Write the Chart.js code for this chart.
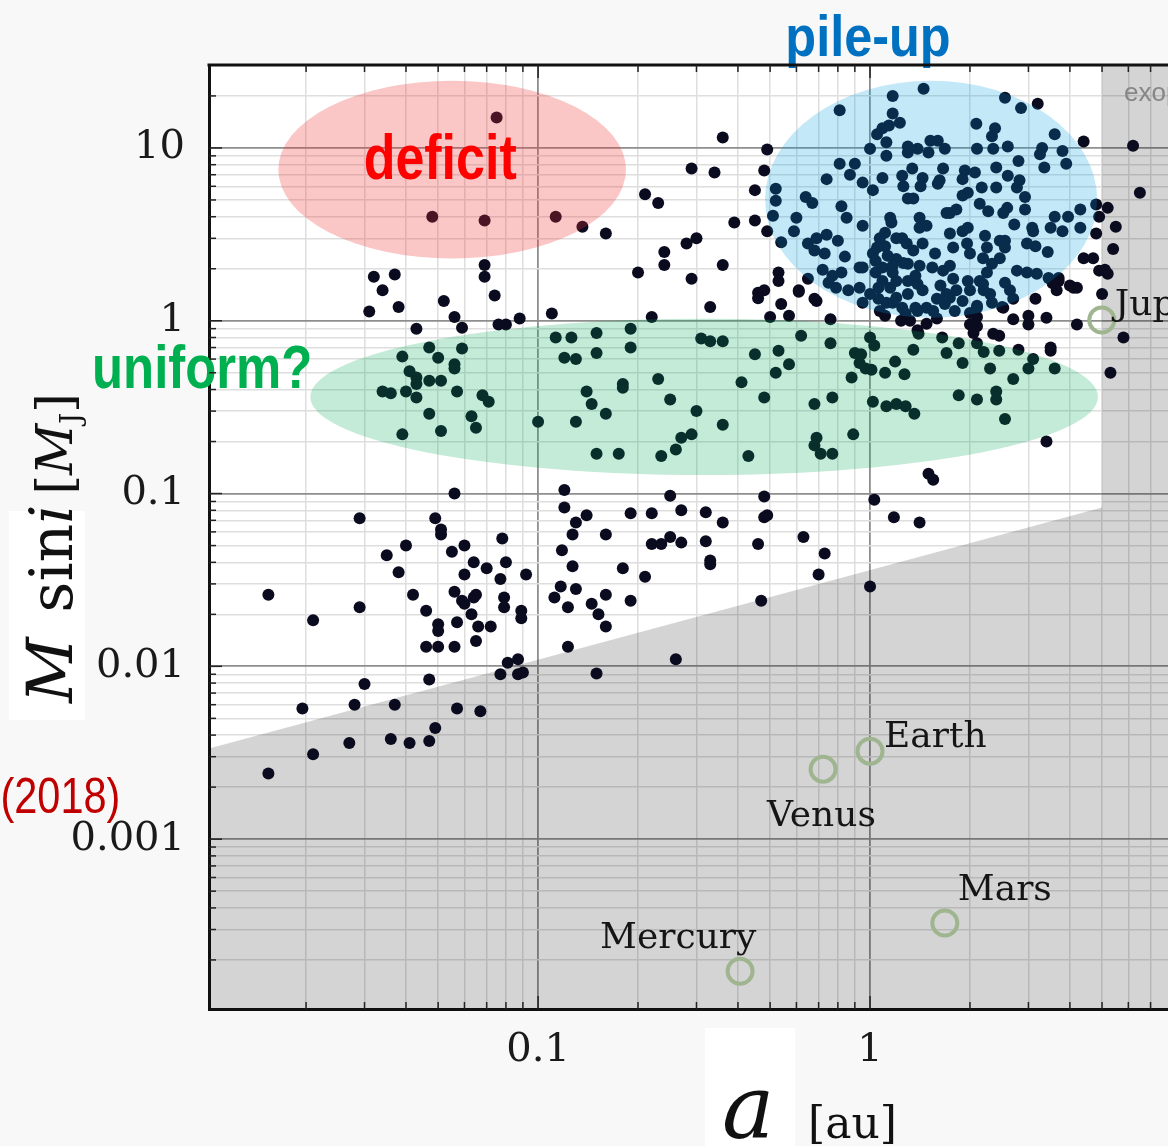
<!DOCTYPE html>
<html><head><meta charset="utf-8">
<script src="https://cdn.jsdelivr.net/npm/chart.js@4.4.1/dist/chart.umd.min.js"></script>
<style>html,body{margin:0;padding:0;background:#f8f8f8;overflow:hidden}canvas{display:block}</style>
</head><body>
<canvas id="c" width="1168" height="1146" style="width:1168px;height:1146px"></canvas>
<script>
// ---------- DATA (semi-major axis a [au], M sin i [M_J]) ----------
const deficitZone = [
 [0.075,15],[0.048,4.0],[0.069,3.8],[0.113,4.0],[0.136,3.5],[0.069,2.1],[0.069,1.8],[0.032,1.8],[0.037,1.85],
 [0.034,1.5],[0.052,1.3],[0.074,1.4],[0.031,1.13],[0.038,1.2],[0.056,1.05],[0.043,0.9],[0.059,0.91],[0.076,0.95],
 [0.080,0.95],[0.088,1.03],[0.11,1.1],[0.113,0.8],[0.126,0.8],[0.15,0.85],[0.047,0.7],[0.059,0.69]
];
const innerUniform = [
 [0.12,0.61],[0.13,0.6],[0.15,0.65],[0.039,0.62],[0.05,0.61],[0.056,0.56],[0.056,0.53],[0.041,0.51],[0.043,0.47],
 [0.043,0.43],[0.047,0.45],[0.051,0.45],[0.034,0.39],[0.036,0.38],[0.040,0.39],[0.043,0.36],[0.057,0.39],[0.068,0.37],
 [0.071,0.34],[0.047,0.29],[0.063,0.28],[0.065,0.24],[0.039,0.22],[0.051,0.23],[0.1,0.26],[0.14,0.39],[0.145,0.33],
 [0.13,0.26],[0.15,0.17]
];
const lowMassInner = [
 [0.056,0.1],[0.12,0.105],[0.12,0.083],[0.14,0.075],[0.13,0.068],[0.127,0.058],[0.029,0.072],[0.049,0.072],[0.051,0.062],
 [0.051,0.058],[0.040,0.05],[0.035,0.044],[0.055,0.046],[0.06,0.05],[0.078,0.055],[0.064,0.04],[0.080,0.04],[0.118,0.047],
 [0.038,0.035],[0.06,0.034],[0.07,0.037],[0.092,0.034],[0.127,0.038],[0.077,0.032],[0.117,0.029],[0.13,0.028],[0.0154,0.026],
 [0.112,0.025],[0.123,0.022],[0.145,0.023],[0.152,0.02],[0.123,0.013],[0.15,0.0091],[0.021,0.0185],[0.029,0.022],[0.042,0.026],
 [0.046,0.021],[0.056,0.027],[0.059,0.024],[0.06,0.023],[0.064,0.025],[0.065,0.026],[0.063,0.02],[0.057,0.018],[0.050,0.0175],
 [0.050,0.016],[0.066,0.017],[0.072,0.017],[0.065,0.014],[0.046,0.013],[0.050,0.013],[0.056,0.013],[0.079,0.025],[0.079,0.022],
 [0.089,0.021],[0.089,0.019],[0.081,0.0105],[0.087,0.011],[0.077,0.009],[0.087,0.009],[0.090,0.0092],[0.047,0.0084],[0.030,0.0079],
 [0.028,0.006],[0.0195,0.0057],[0.037,0.006],[0.057,0.0057],[0.067,0.0055],[0.049,0.0044],[0.027,0.0036],[0.036,0.0038],
 [0.041,0.0036],[0.047,0.0037],[0.021,0.0031],[0.0154,0.0024]
];
const lowMassMid = [
 [0.25,0.097],[0.48,0.096],[1.03,0.092],[0.19,0.077],[0.22,0.077],[0.27,0.08],[0.32,0.078],[0.36,0.068],[0.48,0.073],
 [0.49,0.075],[1.18,0.073],[1.41,0.068],[0.16,0.058],[0.25,0.056],[0.22,0.051],[0.235,0.051],[0.27,0.052],[0.32,0.053],
 [0.46,0.051],[0.63,0.056],[0.33,0.041],[0.33,0.039],[0.73,0.045],[0.18,0.037],[0.21,0.033],[0.70,0.034],[0.16,0.026],
 [0.19,0.024],[0.47,0.024],[1.0,0.029],[0.16,0.017],[0.26,0.011]
];
const uniformMid = [
 [0.22,1.05],[0.33,1.2],[0.50,1.05],[0.54,1.25],[0.57,1.07],[0.69,1.3],[0.76,1.02],[1.24,1.0],[1.48,0.96],[1.4,0.84],
 [2.7,1.02],[3.0,1.07],[3.4,1.04],[3.0,0.95],[4.2,0.95],[5.8,0.8],[5.3,0.5],[2.0,0.95],[2.1,0.93],[2.05,0.85],[2.35,0.84],
 [2.45,0.82],[2.5,1.2],[3.5,0.7],[3.5,0.67],[2.8,0.68],[2.45,0.67],[2.2,0.66],[2.1,0.74],[1.85,0.74],[1.65,0.8],[1.7,0.65],
 [1.9,0.57],[3.1,0.6],[3.0,0.53],[3.6,0.53],[2.3,0.53],[2.7,0.46],[2.4,0.39],[2.4,0.35],[2.1,0.35],[1.85,0.37],[2.55,0.27],
 [3.4,0.2],[1.35,0.68],[1.19,0.58],[1.27,0.49],[1.11,0.5],[1.0,0.8],[1.03,0.72],[0.9,0.65],[0.94,0.64],[0.93,0.57],[0.97,0.53],
 [1.01,0.52],[0.88,0.47],[1.02,0.34],[1.12,0.32],[1.2,0.33],[1.28,0.32],[1.36,0.29],[0.89,0.22],[0.77,0.36],[0.68,0.33],
 [0.69,0.21],[0.68,0.19],[0.71,0.17],[0.77,0.17],[1.5,0.13],[1.55,0.12],[0.62,0.82],[0.76,0.74],[0.45,0.64],[0.53,0.67],
 [0.52,0.5],[0.57,0.56],[0.41,0.44],[0.48,0.36],[0.36,0.25],[0.29,0.22],[0.27,0.21],[0.26,0.18],[0.235,0.165],[0.43,0.165],
 [0.30,0.3],[0.25,0.35],[0.23,0.46],[0.18,0.43],[0.18,0.41],[0.16,0.29],[0.175,0.17],[0.19,0.9],[0.19,0.7],[0.31,0.79],
 [0.33,0.76],[0.36,0.76]
];
const midGiants = [
 [0.36,11.5],[0.49,9.8],[0.29,7.6],[0.34,7.2],[0.48,7.4],[0.45,5.7],[0.21,5.4],[0.23,4.8],[0.39,3.7],[0.45,3.8],[0.49,3.3],
 [0.16,3.2],[0.28,2.8],[0.30,3.0],[0.24,2.5],[0.24,2.1],[0.20,1.9],[0.36,2.1],[0.29,1.75],[0.53,1.9],[0.53,1.7],[0.46,1.45],
 [0.48,1.5],[0.46,1.35],[0.61,1.47],[0.65,1.75]
];
const outerGiants = [
 [4.4,10.9],[3.2,18],[2.85,17],[2.55,19.5],[1.45,22],[1.17,20],[0.81,16.5],[6.2,10.3],[6.5,5.5],[5.2,4.5],[4.9,4.0],[5.5,3.5],
 [4.8,3.2],[5.4,2.6],[4.4,2.3],[4.7,2.3],[4.9,1.95],[5.2,1.87],[5.1,1.97],[5.0,1.43],[4.2,1.55],[4.0,1.6],[3.7,1.7],[3.55,1.65],
 [3.15,1.34],[2.1,1.22],[2.1,1.05],[1.39,0.88],[2.2,1.5],[1.7,1.43],[3.45,1.77]
];
const pileUp = [
 [1.17,15.8],[1.23,14],[1.14,13.5],[1.09,13],[1.05,12],[1.12,10.8],[2.09,13.8],[2.38,13],[2.33,11.7],[3.6,12],
 [1.0,9.9],[1.12,9.0],[1.3,10.2],[1.3,9.4],[1.39,9.9],[1.52,11],[1.6,11],[1.68,9.9],[1.5,9.4],[2.1,9.9],[2.35,9.9],[2.6,10.2],
 [3.3,10],[3.25,9.2],[3.8,9.6],[3.9,8.1],[3.35,7.7],[0.81,8.1],[0.9,8.1],[0.87,7.0],[0.95,6.3],[0.74,6.6],[1.09,6.7],[1.02,5.7],
 [1.25,6.9],[1.34,7.6],[1.44,6.7],[1.26,6.0],[1.42,6.0],[1.3,5.1],[1.35,5.1],[1.66,7.6],[1.62,6.5],[1.6,6.2],[1.93,7.4],[2.07,7.2],
 [1.9,6.6],[2.17,5.9],[1.97,5.5],[1.9,5.3],[2.4,7.7],[2.6,6.9],[2.4,5.9],[2.8,8.4],[2.82,6.5],[2.77,5.9],[2.93,5.2],[2.59,4.5],
 [2.52,4.2],[2.93,4.4],[4.3,4.4],[3.95,4.0],[3.6,4.0],[3.8,3.3],[4.3,3.45],[3.5,3.45],[3.08,3.45],[3.15,2.7],[3.43,2.5],[2.72,3.6],
 [2.55,2.9],[2.55,2.65],[2.22,3.1],[1.97,3.45],[1.9,3.3],[1.74,4.2],[1.82,4.4],[1.7,4.2],[2.14,4.75],[2.27,4.3],[1.41,3.95],
 [1.48,3.55],[1.15,3.95],[1.16,3.7],[0.95,3.55],[0.82,4.6],[0.85,3.95],[0.6,3.95],[0.64,5.2],[0.67,4.8],[0.52,5.8],[0.52,4.95],
 [0.51,4.05],[0.59,3.3],[0.54,2.85],[0.65,2.8],[0.69,3.0],[0.74,3.15],[0.8,2.9],[0.68,2.55],[0.73,2.45],[0.84,2.35],[0.93,2.03],
 [0.72,1.97],[0.77,1.82],[0.82,1.9],[0.75,1.66],[0.79,1.55],[0.86,1.5],[0.61,1.5],[0.68,1.34],[0.95,1.27],[1.02,2.45],[1.07,3.0],
 [1.11,2.7],[1.05,2.65],[1.13,2.38],[1.2,2.28],[1.25,3.0],[1.29,2.8],[1.35,2.55],[1.44,2.8],[1.41,3.45],[1.57,2.45],[1.74,3.2],
 [1.78,2.65],[1.96,2.8],[2.0,2.45],[2.19,2.3],[2.33,2.14],[2.46,2.3],[2.25,1.9],[2.14,1.7],[1.97,1.7],[1.78,1.75],[1.66,1.95],
 [1.54,2.03],[1.41,2.08],[1.3,2.14],[1.17,2.08],[1.09,2.03],[1.04,1.9],[1.09,1.7],[1.15,1.55],[1.06,1.55],[1.2,1.7],[1.3,1.7],
 [1.39,1.63],[1.44,1.5],[1.3,1.43],[1.2,1.36],[1.12,1.27],[1.07,1.14],[1.25,1.19],[1.37,1.19],[1.48,1.19],[1.59,1.34],[1.74,1.36],
 [1.82,1.5],[2.0,1.5],[2.19,1.63],[2.3,1.43],[2.64,1.5],[2.52,1.19],[2.77,1.95],[2.97,1.9],[3.18,1.87],[2.7,1.34],[2.55,1.66],
 [2.46,2.9],[2.25,2.65],[1.74,2.08],[1.2,3.0],[0.95,2.03],[0.93,1.55],[1.0,1.43],[1.32,1.0],[1.39,1.14],[1.59,1.03],[2.1,1.19],
 [3.1,3.3],[2.97,2.8],[4.8,4.7],[3.65,1.5],[3.7,1.77],[4.1,1.55],[2.0,1.11],
 [1.06,1.34],[1.17,1.27],[1.11,1.07],[1.28,1.1],[1.55,1.14],[1.68,1.25],[1.8,1.14],[1.9,1.3],[2.33,1.27],[1.63,1.6],[1.17,1.9],
 [1.26,2.16],[1.37,1.82],[1.04,2.22],[1.11,3.23]
];

// Solar-system planets
const planetNames = ['Mercury','Venus','Earth','Mars','Jupiter'];
const planetA = [0.406, 0.722, 1.0, 1.68, 4.99];
const planetM = [0.000172, 0.00254, 0.00323, 0.000327, 1.01];

// Detection-limit boundary (shaded region below / right of it)
const limitA = [0.0102, 5.0, 5.0, 7.9];
const limitM = [0.00335, 0.083, 30.2, 30.2];

// Axis ticks
const xTickValues = [0.02,0.03,0.04,0.05,0.06,0.07,0.08,0.09,0.1,0.2,0.3,0.4,0.5,0.6,0.7,0.8,0.9,1,2,3,4,5,6,7];
const xLabelValues = [0.1, 1];
const xLabelTexts = ['0.1', '1'];
const yTickValues = [0.0002,0.0003,0.0004,0.0005,0.0006,0.0007,0.0008,0.0009,0.001,0.002,0.003,0.004,0.005,0.006,0.007,0.008,0.009,
  0.01,0.02,0.03,0.04,0.05,0.06,0.07,0.08,0.09,0.1,0.2,0.3,0.4,0.5,0.6,0.7,0.8,0.9,1,2,3,4,5,6,7,8,9,10,20];
const yLabelValues = [0.001, 0.01, 0.1, 1, 10];
const yLabelTexts = ['0.001', '0.01', '0.1', '1', '10'];

// Highlight regions (data-space bounds)
const regionNames = ['deficit', 'pile-up', 'uniform?'];
const regionA = [[0.0165, 0.184], [0.483, 4.83], [0.0206, 4.86]];
const regionM = [[2.29, 24.5], [1.04, 24.5], [0.128, 1.027]];

// ---------- STYLE ----------
const regionFill = ['rgba(238,50,50,0.28)', 'rgba(0,157,221,0.235)', 'rgba(0,170,80,0.23)'];
const annotations = [
  {text:'deficit',  a:0.0507, m:6.64,   font:'bold 63px "Liberation Sans"', color:'#ff0000', sx:0.825, align:'center'},
  {text:'pile-up',  a:0.986,  m:34.2,   font:'bold 58px "Liberation Sans"', color:'#0070c0', sx:0.87,  align:'center'},
  {text:'uniform?', a:0.00973,m:0.409,  font:'bold 62px "Liberation Sans"', color:'#00b050', sx:0.82,  align:'center'},
  {text:'(2018)',   a:0.0024, m:0.00142,font:'50px "Liberation Sans"',      color:'#c00000', sx:0.83,  align:'left'}
];
const planetLabelOffset = [[-140,-23],[-56,57],[14,-4],[13,-23],[13,-5]];

const isDecade = v => Math.abs(Math.log10(v) - Math.round(Math.log10(v))) < 1e-6;
const findLabel = (vals, texts, v) => { const i = vals.findIndex(u => Math.abs(u - v) / u < 1e-6); return i >= 0 ? texts[i] : ''; };

const exoplanets = [].concat(deficitZone, innerUniform, lowMassInner, lowMassMid, uniformMid, midGiants, outerGiants, pileUp)
  .map(p => ({x: p[0], y: p[1]}));
const planets = planetA.map((a, i) => ({x: a, y: planetM[i]}));
const limit = limitA.map((a, i) => ({x: a, y: limitM[i]}));

const decor = {
  id: 'decor',
  beforeDraw(chart) {
    const {ctx, chartArea: ca} = chart;
    ctx.save();
    ctx.fillStyle = '#f8f8f8';
    ctx.fillRect(0, 0, chart.width, chart.height);
    ctx.fillStyle = '#ffffff';
    ctx.fillRect(ca.left, ca.top, ca.right - ca.left, ca.bottom - ca.top);
    // white patches behind the axis titles
    ctx.fillRect(9, 511, 76, 209);
    ctx.fillRect(705, 1028, 90, 118);
    ctx.restore();
  },
  afterDatasetsDraw(chart) {
    const {ctx, scales: {x: xs, y: ys}} = chart;
    ctx.save();
    // translucent highlight ellipses
    regionNames.forEach((n, i) => {
      const x1 = xs.getPixelForValue(regionA[i][0]), x2 = xs.getPixelForValue(regionA[i][1]);
      const y1 = ys.getPixelForValue(regionM[i][1]), y2 = ys.getPixelForValue(regionM[i][0]);
      ctx.beginPath();
      ctx.ellipse((x1 + x2) / 2, (y1 + y2) / 2, (x2 - x1) / 2, (y2 - y1) / 2, 0, 0, Math.PI * 2);
      ctx.fillStyle = regionFill[i];
      ctx.fill();
    });
    // planet names
    ctx.font = '36px "DejaVu Serif"';
    ctx.fillStyle = '#151515';
    ctx.textAlign = 'left';
    ctx.textBaseline = 'alphabetic';
    planetNames.forEach((n, i) => {
      const px = xs.getPixelForValue(planetA[i]), py = ys.getPixelForValue(planetM[i]);
      ctx.fillText(n, px + planetLabelOffset[i][0], py + planetLabelOffset[i][1]);
    });
    // "exoplanets" tag in the shaded band
    ctx.font = '26px "Liberation Sans"';
    ctx.fillStyle = '#868686';
    ctx.fillText('exoplanets', xs.getPixelForValue(5.0) + 22, chart.chartArea.top + 36);
    // annotation words
    annotations.forEach(t => {
      const px = xs.getPixelForValue(t.a), py = ys.getPixelForValue(t.m);
      ctx.save();
      ctx.translate(px, py);
      ctx.scale(t.sx, 1);
      ctx.font = t.font;
      ctx.fillStyle = t.color;
      ctx.textAlign = t.align;
      ctx.fillText(t.text, 0, 0);
      ctx.restore();
    });
    ctx.restore();
  },
  afterDraw(chart) {
    const {ctx, chartArea: ca, scales: {x: xs, y: ys}} = chart;
    ctx.save();
    // top frame line
    ctx.strokeStyle = '#111';
    ctx.lineWidth = 3;
    ctx.beginPath();
    ctx.moveTo(ca.left - 1.5, ca.top);
    ctx.lineTo(ca.right, ca.top);
    ctx.stroke();
    // inward tick marks
    ctx.lineWidth = 1.5;
    ctx.strokeStyle = '#222';
    ys.ticks.forEach(t => {
      const py = ys.getPixelForValue(t.value);
      const len = isDecade(t.value) ? 13 : 7;
      ctx.beginPath(); ctx.moveTo(ca.left, py); ctx.lineTo(ca.left + len, py); ctx.stroke();
    });
    xs.ticks.forEach(t => {
      const px = xs.getPixelForValue(t.value);
      const len = isDecade(t.value) ? 13 : 7;
      ctx.beginPath(); ctx.moveTo(px, ca.bottom); ctx.lineTo(px, ca.bottom - len); ctx.stroke();
      ctx.beginPath(); ctx.moveTo(px, ca.top); ctx.lineTo(px, ca.top + len); ctx.stroke();
    });
    // y-axis title: M sin i [M_J]
    ctx.fillStyle = '#111';
    ctx.textAlign = 'left';
    ctx.textBaseline = 'alphabetic';
    ctx.translate(72, 703);
    ctx.rotate(-Math.PI / 2);
    let x = 0;
    const seg = (t, font, dy) => { ctx.font = font; ctx.fillText(t, x, dy || 0); x += ctx.measureText(t).width; };
    seg('M', 'italic 64px "DejaVu Serif"');
    x += 6;
    seg(' sin', '60px "DejaVu Serif"');
    seg('i', 'italic 60px "DejaVu Serif"');
    x += 10;
    seg('[', '50px "DejaVu Serif"');
    seg('M', 'italic 50px "DejaVu Serif"');
    seg('J', '28px "DejaVu Serif"', 8);
    seg(']', '50px "DejaVu Serif"');
    ctx.setTransform(1, 0, 0, 1, 0, 0);
    // x-axis title: a [au]
    ctx.font = 'italic 88px "DejaVu Serif"';
    ctx.fillText('a', 722, 1138);
    ctx.font = '44px "DejaVu Serif"';
    ctx.fillText('[au]', 808, 1138);
    ctx.restore();
  }
};

const tickFont = {family: '"DejaVu Serif"', size: 40};
new Chart(document.getElementById('c'), {
  type: 'scatter',
  data: {
    datasets: [
      {type: 'scatter', label: 'Solar System', data: planets, pointRadius: 12.5, pointHoverRadius: 12.5,
       backgroundColor: 'rgba(0,0,0,0)', borderColor: '#9eb58f', borderWidth: 4, order: 1},
      {type: 'scatter', label: 'Exoplanets', data: exoplanets, pointRadius: 6, pointHoverRadius: 6,
       backgroundColor: '#0b0b20', borderWidth: 0, order: 2},
      {type: 'line', label: 'Detection limit', data: limit, fill: 'start', backgroundColor: 'rgba(0,0,0,0.17)',
       borderColor: 'rgba(0,0,0,0)', borderWidth: 0, pointRadius: 0, tension: 0, order: 5}
    ]
  },
  options: {
    responsive: false,
    animation: false,
    devicePixelRatio: 1,
    events: [],
    layout: {autoPadding: false, padding: {top: 65, right: 0, bottom: 0, left: 0}},
    plugins: {legend: {display: false}, tooltip: {enabled: false}},
    scales: {
      x: {
        type: 'logarithmic', min: 0.0102, max: 7.9,
        afterBuildTicks: s => { s.ticks = xTickValues.map(v => ({value: v})); },
        afterFit: s => { s.height = 137; s.paddingLeft = 0; s.paddingRight = 0; },
        ticks: {callback: v => findLabel(xLabelValues, xLabelTexts, v), font: tickFont, color: '#1a1a1a',
                padding: 18, autoSkip: false, maxRotation: 0, minRotation: 0},
        grid: {color: c => (c.tick && isDecade(c.tick.value)) ? '#8e8e8e' : '#dedede',
               lineWidth: c => (c.tick && isDecade(c.tick.value)) ? 1.8 : 1.5, drawTicks: false},
        border: {display: true, color: '#111', width: 3}
      },
      y: {
        type: 'logarithmic', min: 1.04e-4, max: 30.2,
        afterBuildTicks: s => { s.ticks = yTickValues.map(v => ({value: v})); },
        afterFit: s => { s.width = 209; s.paddingTop = 0; s.paddingBottom = 0; },
        ticks: {callback: v => findLabel(yLabelValues, yLabelTexts, v), font: tickFont, color: '#1a1a1a',
                padding: 24, autoSkip: false},
        grid: {color: c => (c.tick && isDecade(c.tick.value)) ? '#8e8e8e' : '#dedede',
               lineWidth: c => (c.tick && isDecade(c.tick.value)) ? 1.8 : 1.5, drawTicks: false},
        border: {display: true, color: '#111', width: 3}
      }
    }
  },
  plugins: [decor]
});
</script>
</body></html>
